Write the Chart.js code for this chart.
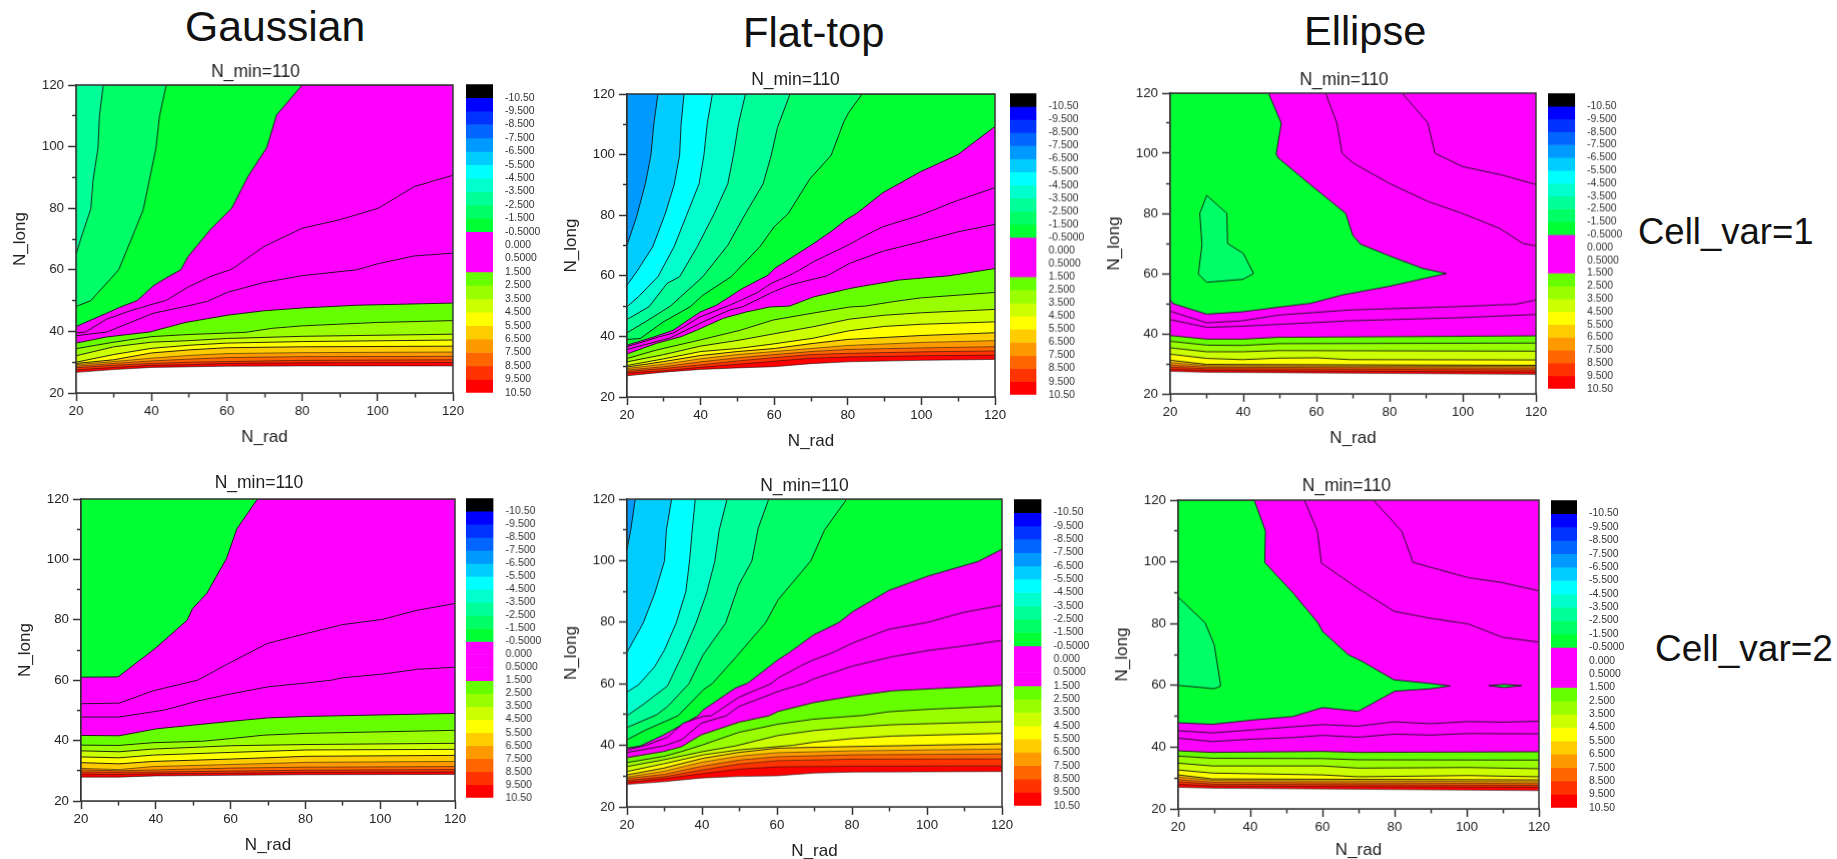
<!DOCTYPE html>
<html>
<head>
<meta charset="utf-8">
<title>Contours</title>
<script src="https://cdn.jsdelivr.net/npm/chart.js@4/dist/chart.umd.min.js"></script>
<style>
  html, body { margin: 0; padding: 0; background: #fff; }
  body { position: relative; width: 1837px; height: 859px; overflow: hidden; font-family: "Liberation Sans", Arial, sans-serif; color: #111; }
  canvas { position: absolute; filter: blur(0.45px); }
  .head { position: absolute; line-height: 1; white-space: nowrap; }
</style>
</head>
<body>
<div class="head" style="left:185px;top:5px;font-size:42.7px">Gaussian</div>
<div class="head" style="left:743px;top:12px;font-size:41.7px">Flat-top</div>
<div class="head" style="left:1304px;top:10px;font-size:41.5px">Ellipse</div>
<div class="head" style="left:1638px;top:214px;font-size:36.5px">Cell_var=1</div>
<div class="head" style="left:1655px;top:630px;font-size:37px">Cell_var=2</div>
<script>
// colour scale, top to bottom. first one sits above the first level
var bandColors = ["#000000", "#0000ff", "#0033ff", "#0066ff", "#0099ff", "#00ccff", "#00ffff", "#00ffcc", "#00ff99", "#00ff66", "#00ff33",
    "#ff00ff", "#ff00ff", "#ff00ff",
    "#66ff00", "#99ff00", "#ccff00", "#ffff00", "#ffcc00", "#ff9900", "#ff6600", "#ff3300", "#ff0000"];
var levelLabels = ["-10.50", "-9.500", "-8.500", "-7.500", "-6.500", "-5.500", "-4.500", "-3.500", "-2.500", "-1.500", "-0.5000",
    "0.000", "0.5000", "1.500", "2.500", "3.500", "4.500", "5.500", "6.500", "7.500", "8.500", "9.500", "10.50"];
var magenta = "#ff00ff";

var panelTitle = "N_min=110";
var xLabel = "N_rad";
var yLabel = "N_long";

// contour lines, [N_rad, N_long]. each list starts at its level label
var gaussian1Start = "-2.500";
var gaussian1Base = "#00ff99";
var gaussian1Lines = [
    [[20, 65], [21.3, 70.3], [23.9, 79.8], [24.5, 89], [25.8, 99.5], [26.2, 110], [27.2, 120]],
    [[20, 48.1], [23.9, 50], [31.3, 60], [35.3, 71.9], [37.8, 79.5], [41.2, 99.5], [42.1, 109.7], [43.9, 120]],
    [[20, 41.6], [28.1, 45.9], [31.5, 47.8], [36.2, 50], [40.5, 54.8], [43.8, 57.3], [47.8, 60], [49.7, 64.3], [55.6, 73], [61.3, 80], [65.6, 90.3], [70.6, 99.7], [73.2, 110.3], [80, 120]],
    [[20, 39.5], [22.5, 39.8], [28.1, 44], [34.6, 46.8], [40.5, 48.9], [43.8, 50], [49.7, 54.4], [55.6, 57.8], [61.3, 60.2], [69.9, 67.6], [80, 73.5], [89.8, 76.2], [100.2, 80], [109.7, 87], [120, 90.7]],
    [[20, 38.6], [28.1, 39.8], [40.5, 45.9], [49, 48.1], [54.7, 49.7], [60.4, 52.8], [69.9, 55.9], [80, 58.1], [94.5, 60], [100.2, 62], [109.7, 64.5], [120, 65.4]],
    [[20, 36.2], [28.1, 38.2], [39.5, 39.8], [49, 42.9], [60.4, 45.3], [69.9, 46.7], [80, 47.6], [94.5, 48.5], [120, 49.2]],
    [[20, 34.4], [30, 36.5], [40, 38.3], [50, 39], [65, 39.7], [72, 41], [80, 41.8], [100, 42.9], [120, 43.5]],
    [[20, 32.1], [30, 35], [40, 36.5], [50, 37], [60, 37.7], [80, 38.4], [120, 39.1]],
    [[20, 30], [30, 32.5], [40, 34.5], [50, 35.5], [60, 36.2], [80, 36.7], [120, 37.2]],
    [[20, 29.6], [30, 30.8], [40, 33], [50, 34], [60, 34.7], [80, 35], [120, 35.2]],
    [[20, 29.2], [30, 30.2], [40, 31.3], [50, 32.2], [60, 32.8], [80, 33.1], [120, 33.3]],
    [[20, 28.7], [30, 29.6], [40, 30.4], [50, 31], [60, 31.5], [80, 31.8], [120, 31.9]],
    [[20, 28.2], [30, 29], [40, 29.6], [50, 30], [60, 30.2], [80, 30.6], [120, 30.8]],
    [[20, 27.5], [30, 28.3], [40, 29], [50, 29.2], [60, 29.6], [80, 29.8], [120, 29.9]],
    [[20, 26.7], [30, 27.6], [40, 28.3], [60, 28.7], [80, 28.8], [120, 28.8]]
];

var flat1Start = "-6.500";
var flat1Base = "#0099ff";
var flat1Lines = [
    [[20, 70.1], [22.6, 79.5], [25, 90.4], [26.5, 99.8], [27.3, 110.2], [28.4, 120]],
    [[20, 56.9], [22.6, 61.3], [27, 69.6], [30.4, 80.5], [32.8, 90], [34.3, 99.8], [34.7, 110], [35.5, 120]],
    [[20, 49.8], [23.1, 53.1], [28.4, 59.7], [32.8, 69.6], [36.2, 80], [39.6, 90.4], [40.9, 99.8], [41.8, 110.2], [43.2, 120]],
    [[20, 45.6], [26, 49.8], [30.9, 57.5], [34.3, 59.7], [39.1, 69.6], [43.7, 80.5], [47.4, 90.4], [49, 100.3], [50.3, 110.2], [52.2, 120]],
    [[20, 41.2], [25, 44.8], [31.8, 50], [40.6, 59.7], [47.4, 70.1], [52.2, 80.5], [57, 90.4], [59.2, 99.8], [60.9, 109], [64.3, 120]],
    [[20, 39], [23.6, 39.3], [29.9, 44.8], [37.2, 49.8], [40.6, 53.6], [48.3, 59.7], [56.1, 69.6], [60, 76.2], [63.8, 80.5], [69.7, 92], [75.5, 99.8], [78.9, 110.8], [80.3, 114], [83.9, 120]],
    [[20, 37.1], [27.5, 39.9], [32.5, 42], [39.8, 48], [44.3, 50.3], [51.5, 55.9], [58.3, 60.2], [60.2, 62.5], [70, 70.1], [75.9, 75], [79.4, 78.4], [82.3, 80.5], [89.5, 87.4], [99.7, 94.3], [109.9, 100], [120, 109.3]],
    [[20, 36.6], [28.9, 39.9], [32.8, 41.2], [39.8, 46.4], [47.9, 50.3], [55.2, 54.3], [59.3, 57.6], [63.4, 59.7], [66.9, 61.9], [70.6, 64.6], [80.5, 70.4], [84, 72.8], [89.5, 76.2], [99.7, 80], [109.9, 84.9], [120, 89.1]],
    [[20, 35.7], [31.8, 39.5], [39.8, 44.3], [47.9, 48.7], [51.5, 49.8], [59.7, 54.7], [64.2, 56.9], [70.6, 58.9], [74.2, 59.9], [80.5, 64.1], [89.5, 68.1], [99.7, 71.2], [109.9, 74.5], [120, 77]],
    [[20, 34.2], [28, 37.7], [34.7, 39.9], [38.9, 42], [46.2, 46], [52.5, 48.1], [58.8, 49.7], [64.2, 50], [70.6, 53], [80.5, 55.8], [84.2, 56.6], [93.9, 58.6], [107.5, 60], [120, 62.4]],
    [[20, 32.7], [28, 35.5], [39.8, 38.8], [50.7, 42], [59.7, 45.4], [70.6, 47.7], [80.5, 49.7], [84.7, 50], [92, 51.4], [99.7, 52.7], [120, 54.5]],
    [[20, 31.6], [30, 34], [40, 36.8], [50.7, 38.8], [59.7, 40.8], [70.6, 43.2], [80.5, 45.7], [90, 47], [100, 47.8], [120, 48.9]],
    [[20, 30.4], [30, 32.6], [40, 35], [50, 36], [59.7, 37.5], [70.6, 39.4], [80.5, 41.9], [90, 43.3], [100, 44], [120, 44.8]],
    [[20, 29.9], [30, 31.7], [40, 33.7], [50, 35], [60, 36], [70, 37.6], [80, 39], [100, 40.3], [120, 41.2]],
    [[20, 29.4], [30, 30.8], [40, 32.6], [50, 34], [60, 35], [70, 36], [80, 37], [100, 38], [120, 38.6]],
    [[20, 28.9], [30, 30], [40, 31.6], [50, 32.9], [60, 34], [70, 35], [80, 35.7], [100, 36.2], [120, 36.6]],
    [[20, 28.4], [30, 29.4], [40, 30.6], [50, 31.9], [60, 33], [70, 34], [80, 34.4], [100, 34.9], [120, 35.2]],
    [[20, 27.9], [30, 28.7], [40, 29.8], [50, 30.8], [60, 31.8], [70, 32.8], [80, 33.2], [100, 33.6], [120, 33.8]],
    [[20, 27], [30, 28.2], [40, 29.1], [50, 29.6], [60, 30], [70, 31], [80, 31.6], [100, 32.1], [120, 32.4]]
];

var ellipse1Start = "0.000";
var ellipse1Base = magenta;
var ellipse1Green = [[20, 120], [46.9, 120], [50.4, 110], [49, 99.8], [49.6, 98.4], [58.4, 89.5], [68, 80], [69.9, 72.8], [72, 69.8], [79.9, 65.9], [89.1, 61.7], [95.5, 60], [80.4, 55.9], [67.2, 52.9], [58.4, 50.1], [49.6, 48.8], [39.8, 47.3], [30, 46.5], [20.8, 50], [20, 51.4]];
var ellipse1Pockets = [
    [[30, 86], [28.1, 80], [28.7, 69.5], [27.7, 59.8], [30, 57.1], [40, 58.1], [42.8, 60], [40, 66.7], [35.7, 70], [35.5, 80]]
];
var ellipse1Upper = [
    [[62.5, 120], [65.6, 110], [67, 100], [70.1, 96.7], [79.9, 90], [90.6, 83.9], [99.9, 80], [110.1, 75], [116.5, 70], [120, 69.2]],
    [[83.4, 120], [90.4, 110.2], [92.4, 100], [99.9, 95.6], [110.6, 92.8], [120, 89.6]]
];
var ellipse1Lines = [
    [[20, 47.5], [30, 43.6], [39.8, 44.3], [49.6, 46.2], [69.1, 47.9], [98.4, 49], [114.5, 49.8], [120, 51.2]],
    [[20, 44.7], [30, 42.1], [39.8, 42.5], [49.6, 43.1], [69.1, 44.3], [98.4, 45.3], [120, 46.4]],
    [[20, 39.4], [30, 38.2], [39.8, 38.2], [49.6, 38.8], [120, 39.3]],
    [[20, 37.5], [30, 36.2], [39.8, 36.1], [49.6, 36.7], [120, 36.9]],
    [[20, 35.3], [30, 34], [39.8, 34], [49.6, 34.4], [120, 34.2]],
    [[20, 33.2], [30, 31.8], [39.8, 31.4], [49.6, 31.9], [60, 32], [69.1, 31.4], [120, 31.3]],
    [[20, 31.2], [30, 29.8], [120, 29.5]],
    [[20, 30.4], [30, 29.4], [120, 29.1]],
    [[20, 29.6], [30, 28.9], [120, 28.6]],
    [[20, 28.9], [30, 28.4], [120, 28]],
    [[20, 28.2], [30, 27.8], [120, 27.3]],
    [[20, 27.5], [30, 27.2], [120, 26.5]]
];

var gaussian2Start = "-0.5000";
var gaussian2Base = "#00ff33";
var gaussian2Lines = [
    [[20, 61], [29.9, 61.1], [39.8, 70.5], [48.4, 79.9], [49.8, 83.7], [53.6, 88.7], [58.9, 100.3], [61.7, 110.2], [67.2, 120]],
    [[20, 52.2], [30.2, 52.4], [39.3, 56.5], [51.2, 60], [59.4, 65.5], [69.9, 72.2], [80.4, 75.5], [89.9, 78.4], [100.4, 80.1], [110, 83.2], [120, 85.4]],
    [[20, 47.8], [30.2, 47.8], [42.2, 50.1], [51.2, 53.1], [59.4, 55.3], [69.9, 57.8], [80.4, 59.1], [87, 60], [89.9, 60.8], [100.4, 62], [110, 63.6], [120, 64.3]],
    [[20, 41.7], [30.2, 41.6], [40.2, 43.9], [49.8, 45.1], [60.3, 46.4], [69.9, 47.5], [80.4, 48], [120, 49]],
    [[20, 38.5], [30.2, 38.4], [39.3, 39.3], [52.7, 39.8], [60.3, 40.7], [68.9, 41.8], [80.4, 42.4], [120, 43.4]],
    [[20, 36.6], [30.2, 36.3], [39.3, 37.2], [60.3, 38.3], [80.4, 38.7], [120, 39.1]],
    [[20, 34.6], [30.2, 34.3], [39.3, 35.2], [60.3, 36.1], [80.4, 36.9], [120, 37.1]],
    [[20, 32.7], [30.2, 32.3], [39.3, 33.1], [60.3, 33.9], [80.4, 34.8], [120, 35.1]],
    [[20, 30.8], [30.2, 30.4], [39.3, 31.4], [60.3, 32.1], [80.4, 32.8], [120, 33.1]],
    [[20, 30.3], [30.2, 30], [40.2, 30.3], [60.3, 30.9], [80.4, 31.2], [120, 31.4]],
    [[20, 29.6], [30, 29.5], [40, 29.6], [60, 29.9], [80, 30.2], [120, 30.4]],
    [[20, 28.9], [30, 28.8], [40, 29], [60, 29.2], [80, 29.5], [120, 29.6]],
    [[20, 27.9], [30, 27.9], [40, 28.3], [60, 28.5], [80, 28.7], [120, 28.8]]
];

var flat2Start = "-6.500";
var flat2Base = "#0099ff";
var flat2Lines = [
    [[20, 103.5], [21, 110], [22.2, 120]],
    [[20, 70.2], [24.3, 79.7], [27.4, 89.4], [30, 99.9], [30.5, 110], [31.9, 120]],
    [[20, 57.3], [23.1, 59.7], [27.4, 65.6], [30, 71], [33.1, 79.7], [35.7, 90], [36.7, 100.2], [37.4, 110], [38.2, 120]],
    [[20, 49.6], [24, 53], [30.8, 59.3], [35, 70], [38.4, 79.7], [41.2, 89.4], [43.4, 99.7], [44.6, 110], [46.7, 120]],
    [[20, 45.8], [27.9, 49.9], [30.8, 52.6], [36.5, 60], [40.3, 69.4], [46.3, 79.7], [49.8, 92.1], [53.3, 99.9], [55, 110.6], [57.8, 120]],
    [[20, 41.8], [25, 45], [33.6, 49.6], [40.3, 58], [42.7, 60], [49.3, 69], [57, 79.9], [60.3, 87.3], [69, 99.9], [72.7, 110], [78.6, 120]],
    [[20, 39.1], [23.6, 39.8], [29.8, 43.4], [38.9, 49.6], [40.3, 51.5], [48.9, 58.6], [52.2, 60.2], [60.3, 67.8], [63.1, 70], [69.8, 75.9], [76.5, 79.9], [80.3, 83.5], [89.8, 90.3], [100.3, 95], [113.6, 99.7], [120, 103.7]],
    [[20, 38.5], [25, 40], [30.8, 42.6], [35, 47.2], [40.3, 49.4], [42.5, 49.6], [49.8, 55.6], [58.4, 60], [60.3, 61.9], [67, 66.2], [69.8, 67.8], [74.6, 70], [80.3, 73.3], [89.8, 77.7], [100.3, 80], [109.8, 83.2], [120, 85.5]],
    [[20, 37.7], [29.8, 39.8], [34.6, 41.8], [39.8, 47.2], [46.5, 49.6], [49.8, 52.6], [60.3, 57.5], [67, 60], [69.8, 61.6], [80.3, 65.8], [90.8, 68.8], [100.3, 70.8], [109.8, 72.3], [120, 74.1]],
    [[20, 36], [29.8, 38], [34.6, 39.6], [39.8, 43.4], [49.8, 47.5], [57.9, 49.6], [60.3, 51], [69.8, 53.9], [80.3, 56], [90.8, 57.7], [120, 59.5]],
    [[20, 34.4], [29.8, 36.4], [34.6, 38], [40.3, 40.2], [49.8, 44.2], [60.3, 46.9], [69.8, 48.5], [83, 49.7], [89.8, 50.9], [100.3, 51.7], [120, 52.8]],
    [[20, 33.1], [29.8, 35.3], [40.3, 38], [48.9, 39.8], [60.3, 43.2], [69.8, 44.8], [80.3, 45.9], [90.8, 46.7], [120, 47.7]],
    [[20, 31.5], [29.8, 34], [40.3, 36.9], [49.8, 38.5], [64.1, 40], [69.8, 41], [80.3, 42.2], [90.8, 43], [120, 43.9]],
    [[20, 30.4], [29.8, 32.6], [40.3, 35.8], [49.8, 37.7], [60.3, 39.1], [80.3, 39.6], [120, 40.5]],
    [[20, 29.7], [30, 31.6], [40, 34.5], [50, 36.5], [60, 37.6], [80, 38.2], [120, 38.8]],
    [[20, 29.2], [30, 30.6], [40, 33.2], [50, 35.2], [60, 36.3], [80, 36.9], [120, 37.2]],
    [[20, 28.6], [30, 29.8], [40, 32], [50, 33.9], [60, 35], [80, 35.5], [120, 35.6]],
    [[20, 28], [30, 29.2], [40, 30.8], [50, 32.3], [60, 33], [80, 33.2], [120, 33.3]],
    [[20, 27.3], [30, 28.2], [40, 29.4], [50, 29.9], [60, 30.1], [70, 31], [80, 31.3], [120, 31.5]]
];

var ellipse2Start = "0.000";
var ellipse2Base = magenta;
var ellipse2Green = [[20, 120], [41.1, 120], [44.2, 110], [44, 99.8], [51.8, 90], [58.8, 80.2], [60, 77.5], [67.2, 69.9], [71.1, 67.7], [79.8, 61.8], [90, 60.6], [95.4, 59.8], [90, 58.9], [80, 58.1], [69.9, 51.6], [60, 52.8], [51.8, 49.9], [40.9, 48.8], [29.5, 47.4], [20, 47.9]];
var ellipse2Pockets = [
    [[20, 88.6], [27.5, 80.2], [30, 73.1], [31.8, 59.8], [30, 58.9], [20, 60]]
];
var ellipse2Islands = [
    [[106.1, 59.9], [110.3, 60.3], [115.2, 59.9], [110.3, 59.3]]
];
var ellipse2Upper = [
    [[55, 120], [58.6, 110], [59.7, 99.6], [69.7, 91.5], [79.8, 84], [89.5, 81.8], [100.4, 79.9], [109.8, 75.6], [120, 74]],
    [[74.1, 120], [82, 109.9], [85.1, 99.8], [100.4, 94.9], [109.8, 93.3], [120, 90.6]]
];
var ellipse2Lines = [
    [[20, 45.3], [29.5, 44.6], [40.9, 45.6], [51.8, 46.6], [60, 47.3], [69.9, 46.8], [79.8, 48.2], [90, 47.6], [100.4, 48.3], [110.3, 48.1], [120, 48.4]],
    [[20, 42.9], [29.5, 41.8], [40.9, 42.6], [51.8, 43.1], [60, 43.8], [69.9, 43.2], [79.8, 44.2], [90, 43.9], [100.4, 44.4], [120, 44.3]],
    [[20, 38.8], [29.5, 38.3], [60, 38.6], [69.9, 38.3], [120, 38.5]],
    [[20, 37.1], [29.5, 36.4], [60, 36.3], [69.9, 35.9], [120, 35.8]],
    [[20, 34.8], [29.5, 33.9], [60, 33.9], [69.9, 33.2], [100.4, 33.4], [120, 33]],
    [[20, 32.6], [29.5, 31.6], [60, 31], [69.9, 30.4], [100.4, 30.8], [120, 30.4]],
    [[20, 31], [29.5, 29.7], [120, 29.4]],
    [[20, 30.3], [30, 29.2], [120, 28.8]],
    [[20, 29.5], [30, 28.6], [120, 28.2]],
    [[20, 28.8], [30, 28], [120, 27.6]],
    [[20, 28], [30, 27.4], [120, 27]],
    [[20, 27], [29.5, 26.7], [120, 25.9]]
];

// plot rectangles in page pixels: left, top, right, bottom, colorbar left, top, right, bottom, title shift x, y, x label padding
var gaussian1Box = [76.4, 85, 453.2, 393.3, 465.7, 84, 492.9, 393, -9, 0, 5.5];
var flat1Box = [627.1, 93.7, 995.4, 397, 1010, 93, 1036.8, 394.7, -15.5, -0.5, 5.5];
var ellipse1Box = [1170.4, 93.3, 1536, 393.7, 1547.5, 93.3, 1575, 388.7, -9, 0, 5.5];
var gaussian2Box = [81.4, 498.7, 455.4, 801, 466.4, 498, 493.9, 798, -9, -2.5, 5.5];
var flat2Box = [626.8, 499.3, 1001.8, 807, 1014.3, 499, 1042.1, 806, -10, 0, 5.5];
var ellipse2Box = [1178.2, 500.3, 1538.6, 809, 1551.4, 499.7, 1577.5, 808.3, -12, -0.5, 8];

var axisColor = "#333";
var textColor = "#222";
var yAxisWidth = 66;
var xAxisHeight = 60;
var topSpace = 28;
var rightSpace = 46;

Chart.defaults.font.family = '"Liberation Sans", Arial, sans-serif';
Chart.defaults.color = textColor;
Chart.defaults.animation = false;

// the box round the plot, and the title is not centred on the canvas in the original
var framePlugin = {
    id: "frame",
    afterLayout: function (chart, args, opts) {
        var t = chart.titleBlock;
        var a = chart.chartArea;
        t.left = 0;
        t.right = a.left + a.right + 2 * opts.shiftX;
        t.top += opts.shiftY;
        t.bottom += opts.shiftY;
    },
    afterDatasetsDraw: function (chart) {
        var a = chart.chartArea;
        var ctx = chart.ctx;
        ctx.save();
        ctx.strokeStyle = axisColor;
        ctx.lineWidth = 1.5;
        ctx.strokeRect(a.left, a.top, a.right - a.left, a.bottom - a.top);
        ctx.restore();
    }
};

function toPoints(line) {
    return line.map(function (p) {
        return {x: p[0], y: p[1]};
    });
}

// fill under a line that leaves through the top edge has to carry on to the corner
function withCorner(line) {
    var last = line[line.length - 1];
    if (last[1] === 120 && last[0] < 120) {
        return line.concat([[120, 120]]);
    }
    return line;
}

function colorBelow(label) {
    var i = levelLabels.indexOf(label);
    return i + 1 < bandColors.length ? bandColors[i + 1] : "#ffffff";
}

function lineSet(line, fill, color) {
    return {
        data: toPoints(line),
        showLine: true,
        fill: fill,
        backgroundColor: color || "transparent",
        borderColor: "#111",
        borderWidth: 0.9,
        pointRadius: 0,
        tension: 0
    };
}

function makeCanvas(left, top, width, height) {
    var c = document.createElement("canvas");
    c.style.left = left + "px";
    c.style.top = top + "px";
    c.style.width = width + "px";
    c.style.height = height + "px";
    c.width = width;
    c.height = height;
    document.body.appendChild(c);
    return c;
}

function drawPanel(box, base, startLabel, lines, extra) {
    extra = extra || {};
    var sets = [];
    var baseSet = lineSet([[20, 120], [120, 120]], "start", base);
    baseSet.borderWidth = 0;
    sets.push(baseSet);
    if (extra.green) {
        sets.push(lineSet(extra.green, "shape", "#00ff33"));
    }
    (extra.pockets || []).forEach(function (p) {
        sets.push(lineSet(p.concat([p[0]]), "shape", "#00ff66"));
    });
    (extra.islands || []).forEach(function (p) {
        sets.push(lineSet(p.concat([p[0]]), "shape", "#00ff33"));
    });
    (extra.upper || []).forEach(function (p) {
        sets.push(lineSet(p, false));
    });
    var first = levelLabels.indexOf(startLabel);
    var thinFrom = levelLabels.indexOf("6.500");
    lines.forEach(function (line, i) {
        var set = lineSet(withCorner(line), "start", colorBelow(levelLabels[first + i]));
        // the hot levels are packed tight, full width lines turn them black
        if (first + i >= thinFrom) {
            set.borderWidth = 0.55;
        }
        sets.push(set);
    });
    // first dataset has to be painted first, the library paints highest order first
    sets.forEach(function (s, i) {
        s.order = sets.length - i;
    });

    function axis(title, titlePad, tickPad, minorDash, fit) {
        return {
            type: "linear",
            min: 20,
            max: 120,
            afterFit: fit,
            grid: {
                drawOnChartArea: false,
                tickLength: 8,
                tickColor: axisColor,
                tickWidth: 1.5,
                // minor ticks are half as long, dash cuts them off
                tickBorderDash: function (c) {
                    return c.tick && c.tick.value % 20 ? minorDash : [];
                }
            },
            border: {color: axisColor, width: 1.5},
            ticks: {
                stepSize: 10,
                autoSkip: false,
                maxRotation: 0,
                padding: tickPad,
                font: {size: 13.3},
                callback: function (v) {
                    return v % 20 === 0 ? v : "";
                }
            },
            title: {display: true, text: title, font: {size: 17}, padding: titlePad}
        };
    }

    var w = box[2] - box[0];
    var h = box[3] - box[1];
    var canvas = makeCanvas(box[0] - yAxisWidth, box[1] - topSpace, w + yAxisWidth + rightSpace, h + topSpace + xAxisHeight);
    new Chart(canvas, {
        type: "scatter",
        data: {datasets: sets},
        plugins: [framePlugin],
        options: {
            responsive: false,
            animation: false,
            layout: {padding: {top: 6, right: rightSpace, left: 0, bottom: 0}},
            plugins: {
                legend: {display: false},
                tooltip: {enabled: false},
                frame: {shiftX: box[8], shiftY: box[9]},
                title: {display: true, text: panelTitle, font: {size: 17.5, weight: "normal", lineHeight: 1}, padding: {top: 0, bottom: 4.5}, color: textColor},
                filler: {propagate: false}
            },
            scales: {
                x: axis(xLabel, {top: 0, bottom: box[10]}, 2, [4, 100], function (s) { s.height = xAxisHeight; }),
                // y ticks are stroked from the outer end, so skip first
                y: axis(yLabel, {top: 0, bottom: 3}, 4, [0, 4, 4, 100], function (s) { s.width = yAxisWidth; })
            }
        }
    });
    drawColorbar(box);
}

function drawColorbar(box) {
    var pad = 10;
    var labelWidth = 50;
    var w = box[6] - box[4];
    var h = box[7] - box[5];
    var canvas = makeCanvas(box[4], box[5] - pad, w + labelWidth, h + pad * 2);
    new Chart(canvas, {
        type: "bar",
        data: {
            labels: [""],
            datasets: bandColors.map(function (c) {
                return {data: [1], backgroundColor: c, borderWidth: 0, categoryPercentage: 1, barPercentage: 1};
            })
        },
        options: {
            responsive: false,
            animation: false,
            layout: {padding: {top: pad, bottom: pad, left: 0, right: 0}},
            plugins: {legend: {display: false}, tooltip: {enabled: false}},
            scales: {
                x: {stacked: true, display: false},
                y: {
                    stacked: true,
                    reverse: true,
                    min: 0,
                    max: bandColors.length,
                    position: "right",
                    afterFit: function (s) { s.width = labelWidth; },
                    afterBuildTicks: function (s) {
                        s.ticks = levelLabels.map(function (l, i) {
                            return {value: i + 1};
                        });
                    },
                    grid: {display: false},
                    border: {display: false},
                    ticks: {
                        autoSkip: false,
                        padding: 4,
                        font: {size: 10.4},
                        color: "#333",
                        callback: function (v) {
                            return levelLabels[v - 1];
                        }
                    }
                }
            }
        }
    });
}

drawPanel(gaussian1Box, gaussian1Base, gaussian1Start, gaussian1Lines);
drawPanel(flat1Box, flat1Base, flat1Start, flat1Lines);
drawPanel(ellipse1Box, ellipse1Base, ellipse1Start, ellipse1Lines, {green: ellipse1Green, pockets: ellipse1Pockets, upper: ellipse1Upper});
drawPanel(gaussian2Box, gaussian2Base, gaussian2Start, gaussian2Lines);
drawPanel(flat2Box, flat2Base, flat2Start, flat2Lines);
drawPanel(ellipse2Box, ellipse2Base, ellipse2Start, ellipse2Lines, {green: ellipse2Green, pockets: ellipse2Pockets, islands: ellipse2Islands, upper: ellipse2Upper});
</script>
</body>
</html>
